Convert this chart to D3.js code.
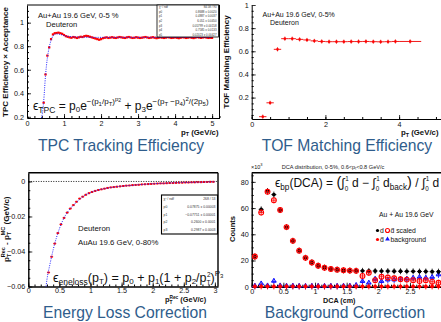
<!DOCTYPE html>
<html><head><meta charset="utf-8">
<script src="https://cdn.jsdelivr.net/npm/d3@7"></script>
<style>body{margin:0;background:#fff}svg{display:block}text{font-family:"Liberation Sans",Arial,sans-serif}</style>
</head><body><script>
// ---------- Panel 1: TPC tracking efficiency ----------
const tpcPt = [
0.45,0.50,0.55,0.60,0.65,0.70,0.75,0.80,0.85,0.90,
0.95,1.00,1.05,1.10,1.15,1.20,1.25,1.30,1.35,1.40,
1.45,1.50,1.55,1.60,1.65,1.70,1.75,1.80,1.85,1.90,
1.95,2.00,2.05,2.10,2.15,2.20,2.25,2.30,2.35,2.40,
2.45,2.50,2.55,2.60,2.65,2.70,2.75,2.80,2.85,2.90,
2.95,3.00,3.05,3.10,3.15,3.20,3.25,3.30,3.35,3.40,
3.45,3.50,3.55,3.60,3.65,3.70,3.75,3.80,3.85,3.90,
3.95,4.00,4.05,4.10,4.15,4.20,4.25,4.30,4.35,4.40,
4.45,4.50,4.55,4.60,4.65,4.70,4.75,4.80,4.85,4.90,
4.95,5.00];
const tpcEff = [
0.32,0.56,0.72,0.79,0.86,0.90,0.91,0.912,0.915,0.91,
0.905,0.895,0.885,0.88,0.875,0.872,0.878,0.875,0.87,0.875,
0.88,0.878,0.885,0.888,0.885,0.88,0.875,0.87,0.865,0.86,
0.855,0.86,0.868,0.872,0.875,0.87,0.873,0.876,0.872,0.87,
0.874,0.878,0.875,0.872,0.87,0.875,0.878,0.874,0.87,0.872,
0.876,0.873,0.87,0.872,0.875,0.878,0.874,0.87,0.873,0.876,
0.872,0.868,0.872,0.875,0.873,0.87,0.873,0.877,0.874,0.87,
0.872,0.875,0.872,0.868,0.872,0.876,0.874,0.87,0.873,0.876,
0.872,0.869,0.873,0.877,0.874,0.871,0.874,0.877,0.873,0.87,
0.872,0.871];
const tpcFitPt  = [0.39,0.42,0.45,0.50,0.55,0.60,0.65,0.70,0.75,0.80,0.90,1.00,1.20,1.50,2.00,3.00,4.00,5.00];
const tpcFitEff = [0.19,0.24,0.33,0.55,0.70,0.79,0.85,0.885,0.90,0.905,0.90,0.89,0.88,0.877,0.875,0.875,0.875,0.875];
const tpcStatNames = ["\u03C7\u00B2 / ndf","p0","p1","p2","p3","p4","p5"];
const tpcStatVals  = ["84.58 / 90","0.8688 \u00B1 0.0020","0.4887 \u00B1 0.0037","6.051 \u00B1 0.0450","0.05799 \u00B1 0.00158","0.7585 \u00B1 0.0133","0.02023 \u00B1 0.00427"];

// ---------- Panel 2: TOF matching efficiency ----------
const tofPt    = [0.3,0.5,0.7,0.9,1.1,1.3,1.5,1.7,1.9,2.1,2.3,2.5,2.7,2.9,3.1,3.3,3.5,3.7,3.9,4.3];
const tofPtErr = [0.1,0.1,0.1,0.1,0.1,0.1,0.1,0.1,0.1,0.1,0.1,0.1,0.1,0.1,0.1,0.1,0.1,0.1,0.1,0.3];
const tofEff   = [0.035,0.155,0.617,0.709,0.709,0.703,0.698,0.690,0.685,0.683,0.683,0.683,0.684,0.684,0.685,0.683,0.682,0.683,0.685,0.685];

// ---------- Panel 3: energy loss correction ----------
const elPt = [
0.325,0.375,0.425,0.475,0.525,0.575,0.625,0.675,0.725,0.775,
0.825,0.875,0.925,0.975,1.025,1.075,1.125,1.175,1.225,1.275,
1.325,1.375,1.425,1.475,1.525,1.575,1.625,1.675,1.725,1.775,
1.825,1.875,1.925,1.975,2.025,2.075,2.125,2.175,2.225,2.275,
2.325,2.375,2.425,2.475,2.525,2.575,2.625,2.675,2.725,2.775,
2.825,2.875,2.925,2.975];
const elDelta = [
-0.052,-0.043,-0.0355,-0.0295,-0.0245,-0.0208,-0.0178,-0.0155,-0.0135,-0.0116,
-0.0098,-0.0087,-0.0076,-0.0067,-0.0060,-0.0054,-0.0049,-0.0045,-0.0041,-0.0037,
-0.0034,-0.0032,-0.0030,-0.0028,-0.0026,-0.0024,-0.0023,-0.0021,-0.0020,-0.0019,
-0.0017,-0.0016,-0.0015,-0.0014,-0.0013,-0.0012,-0.0011,-0.0011,-0.0010,-0.0009,
-0.0009,-0.0008,-0.0007,-0.0007,-0.0006,-0.0006,-0.0005,-0.0005,-0.0004,-0.0004,
-0.0003,-0.0003,-0.0002,-0.0002];
const elFitPt    = [0.285,0.30,0.35,0.40,0.50,0.60,0.70,0.80,0.90,1.00,1.20,1.40,1.60,1.80,2.00,2.25,2.50,2.75,3.00];
const elFitDelta = [-0.060,-0.056,-0.047,-0.039,-0.027,-0.0192,-0.0145,-0.0111,-0.0081,-0.0063,-0.0043,-0.0031,-0.0024,-0.0018,-0.0013,-0.0009,-0.0006,-0.0004,-0.0002];
const elStatNames = ["\u03C7\u00B2 / ndf","p0","p1","p2","p3"];
const elStatVals  = ["268 / 53","0.07875 \u00B1 0.00003","\u22120.07751 \u00B1 0.00001","0.2600 \u00B1 0.0001","0.2987 \u00B1 0.0003"];

// ---------- Panel 4: DCA background correction (counts x10^3) ----------
const dca = [0.05,0.15,0.25,0.35,0.45,0.55,0.65,0.75,0.85,0.95,1.05,1.15,1.25,1.35,1.45,1.55,1.65,1.75,1.85,1.95,2.05,2.15,2.25,2.35,2.45,2.55,2.65,2.75,2.85,2.95];
const countsD       = [23,59,73,70.3,58.5,45.5,35,27.5,22,18.5,16,14.5,13.5,13,12.5,12.3,12.2,12.1,12,12,11.9,11.9,11.8,11.8,11.7,11.7,11.6,11.6,11.5,11.5];
const countsDbarSc  = [23,56.6,72.5,66,58.5,45.5,35,27.5,22,18.5,16,14.5,13.5,13,12.5,12.3,12.1,8.2,10.7,5,7.6,7,6.4,5.7,5.4,5,4.3,5,3.8,3];
const countsDbar    = [0.2,0.2,0.2,0.2,0.2,0.2,0.2,0.2,0.2,0.2,0.2,0.2,0.2,0.2,0.2,0.2,0.2,0.2,0.2,0.2,0.2,0.2,0.2,0.2,0.2,0.2,0.2,0.2,0.2,0.2];
const countsBkg     = [0.3,2,0.5,4,0.5,0.3,0.3,0.2,0.2,0.2,0.2,0.2,0.2,0.2,0.3,0.3,0.8,3.8,2.6,5.6,3.8,5,5,5.7,5.7,6.4,7,6.4,7,8.9];

const captions = ["TPC Tracking Efficiency","TOF Matching Efficiency","Energy Loss Correction","Background Correction"];

// ================= drawing =================
const W = 441, H = 322;
const svg = d3.select("body").append("svg").attr("width", W).attr("height", H);
const SERIF = "'Liberation Serif','DejaVu Serif',serif";
const SANS = "'Liberation Sans',Arial,sans-serif";

function axes(g, x, y, o) {
  const [yb, yt] = y.range(), [xl, xr] = x.range();
  const sw = o.sw || 1;
  g.append("g").attr("transform", `translate(0,${yb})`)
    .call(d3.axisBottom(x).tickValues(o.xMinor).tickSize(-2).tickFormat(""))
    .call(s => s.select(".domain").remove());
  g.append("g").attr("transform", `translate(${xl},0)`)
    .call(d3.axisLeft(y).tickValues(o.yMinor).tickSize(-2).tickFormat(""))
    .call(s => s.select(".domain").remove());
  const ax = g.append("g").attr("transform", `translate(0,${yb})`)
    .call(d3.axisBottom(x).tickValues(o.xMajor).tickSize(-4).tickSizeOuter(0).tickPadding(o.xPad || 4).tickFormat(o.xFmt));
  const ay = g.append("g").attr("transform", `translate(${xl},0)`)
    .call(d3.axisLeft(y).tickValues(o.yMajor).tickSize(-4).tickSizeOuter(0).tickPadding(o.yPad || 3).tickFormat(o.yFmt));
  [ax, ay].forEach(a => {
    a.selectAll("text").attr("font-size", 7.2).attr("fill", "#111").attr("font-family", SANS);
    a.selectAll("line").attr("stroke", "#000").attr("stroke-width", 0.8);
    a.select(".domain").attr("stroke", "#000").attr("stroke-width", sw);
  });
  g.selectAll("line").attr("stroke", "#000");
  if (o.top) g.append("line").attr("x1", xl).attr("x2", xr).attr("y1", yt).attr("y2", yt).attr("stroke", "#000").attr("stroke-width", sw);
  if (o.right) g.append("line").attr("x1", xr).attr("x2", xr).attr("y1", yt).attr("y2", yb).attr("stroke", "#000").attr("stroke-width", sw);
}

function rich(g, x, y, parts, family, weight) {
  const t = g.append("text").attr("x", x).attr("y", y).attr("font-family", family || SERIF).attr("fill", "#111");
  if (weight) t.attr("font-weight", weight);
  let prev = 0;
  parts.forEach(p => {
    const [s, off, size, dx] = p;
    const ts = t.append("tspan").attr("dy", off - prev).attr("font-size", size).text(s);
    if (dx) ts.attr("dx", dx);
    prev = off;
  });
  return t;
}

function statBox(g, x0, y0, w, h, names, vals, fs, sw) {
  g.append("rect").attr("x", x0).attr("y", y0).attr("width", w).attr("height", h)
    .attr("fill", "#fff").attr("stroke", "#000").attr("stroke-width", sw);
  const step = h / names.length;
  names.forEach((n, i) => {
    g.append("text").attr("x", x0 + 2).attr("y", y0 + step * (i + 0.5) + fs * 0.35).attr("font-size", fs).attr("fill", "#333").text(n);
    g.append("text").attr("x", x0 + w - 2).attr("y", y0 + step * (i + 0.5) + fs * 0.35).attr("font-size", fs).attr("fill", "#333").attr("text-anchor", "end").text(vals[i]);
  });
}

// ---------------- Panel 1 ----------------
{
  const g = svg.append("g");
  const x = d3.scaleLinear([0, 5.2], [27, 219.5]);
  const y = d3.scaleLinear([0.19, 1.15], [118, 5]);
  axes(g, x, y, {
    xMajor: [0,1,2,3,4,5], xMinor: d3.range(0, 5.21, 0.2), yMajor: [0.2,0.4,0.6,0.8,1.0], yMinor: d3.range(0.2, 1.15, 0.05),
    xFmt: d3.format("d"), yFmt: d => d === 1 ? "1" : d3.format(".1f")(d), top: true, right: true, xPad: 3, yPad: 3
  });
  g.append("text").attr("transform", "translate(8,62) rotate(-90)").attr("text-anchor", "middle")
    .attr("font-size", 8).attr("font-weight", "bold").attr("fill", "#111").text("TPC Efficiency \u00D7 Acceptance");
  rich(g, 181, 134.5, [["p",0,7.8],["T",1.8,5.3],[" (GeV/c)",0,7.8]], SANS, "bold");
  g.append("text").attr("x", 38).attr("y", 17.5).attr("font-size", 7.6).attr("fill", "#111").text("Au+Au 19.6 GeV, 0-5 %");
  g.append("text").attr("x", 46).attr("y", 27).attr("font-size", 7.6).attr("fill", "#111").text("Deuteron");
  g.append("g").selectAll("line").data(tpcPt).join("line")
    .attr("x1", (d) => x(d - 0.025)).attr("x2", d => x(d + 0.025))
    .attr("y1", (d, i) => y(tpcEff[i])).attr("y2", (d, i) => y(tpcEff[i]))
    .attr("stroke", "#e00").attr("stroke-width", 0.8);
  g.append("g").selectAll("rect").data(tpcPt).join("rect")
    .attr("x", d => x(d) - 1.1).attr("y", (d, i) => y(tpcEff[i]) - 1.1).attr("width", 2.2).attr("height", 2.2).attr("fill", "#f00");
  g.append("path").datum(tpcFitPt).attr("fill", "none").attr("stroke", "#22f").attr("stroke-width", 1)
    .attr("stroke-dasharray", "1,1.3")
    .attr("d", d3.line().x(d => x(d)).y((d, i) => y(tpcFitEff[i])).curve(d3.curveMonotoneX));
  statBox(g, 157, 5, 61.5, 32, tpcStatNames, tpcStatVals, 2.9, 0.8);
  rich(g, 33, 109.5, [
    ["\u03F5",0,12],["TPC",3.2,8.5],[" = p",0,12],["0",2.7,8],["e",0,12],
    ["\u2212(p",-5.5,8],["1",-3.3,6],["/p",-5.5,8],["T",-3.3,6],[")",-5.5,8],["p",-9,6],["2",-8,5],
    [" + p",0,12],["3",2.7,8],["e",0,12],
    ["\u2212(p",-5.5,8],["T",-3.3,6],[" \u2212p",-5.5,8],["4",-3.3,6],[")",-5.5,8],["2",-8.5,6],["/(2p",-5.5,8],["5",-3.3,6],[")",-5.5,8]
  ]);
}

// ---------------- Panel 2 ----------------
{
  const g = svg.append("g");
  const x = d3.scaleLinear([0, 5.3], [251.7, 447]);
  const y = d3.scaleLinear([0.015, 1], [119, 5]);
  axes(g, x, y, {
    xMajor: [0,2,4], xMinor: d3.range(0, 5.3, 0.5), yMajor: [0.2,0.4,0.6,0.8,1.0], yMinor: d3.range(0.05, 1.0, 0.05),
    xFmt: d3.format("d"), yFmt: d => d === 1 ? "1" : d3.format(".1f")(d), xPad: 2.5, yPad: 3
  });
  g.append("text").attr("transform", "translate(228.5,62) rotate(-90)").attr("text-anchor", "middle")
    .attr("font-size", 8).attr("font-weight", "bold").attr("fill", "#111").text("TOF Matching Efficiency");
  rich(g, 401, 135, [["p",0,7.8],["T",1.8,5.3],[" (GeV/c)",0,7.8]], SANS, "bold");
  g.append("text").attr("x", 262.5).attr("y", 16.5).attr("font-size", 7).attr("fill", "#111").text("Au+Au 19.6 GeV, 0-5%");
  g.append("text").attr("x", 270).attr("y", 24.5).attr("font-size", 7).attr("fill", "#111").text("Deuteron");
  g.append("g").selectAll("line").data(tofPt).join("line")
    .attr("x1", (d, i) => x(d - tofPtErr[i])).attr("x2", (d, i) => x(d + tofPtErr[i]))
    .attr("y1", (d, i) => y(tofEff[i])).attr("y2", (d, i) => y(tofEff[i]))
    .attr("stroke", "#e00").attr("stroke-width", 0.9);
  g.append("g").selectAll("line").data(tofPt).join("line")
    .attr("x1", d => x(d)).attr("x2", d => x(d))
    .attr("y1", (d, i) => y(tofEff[i]) - 2).attr("y2", (d, i) => y(tofEff[i]) + 2)
    .attr("stroke", "#e00").attr("stroke-width", 0.9);
  g.append("g").selectAll("rect").data(tofPt).join("rect")
    .attr("x", d => x(d) - 1.1).attr("y", (d, i) => y(tofEff[i]) - 1.1).attr("width", 2.2).attr("height", 2.2).attr("fill", "#f00");
}

// ---------------- Panel 3 ----------------
{
  const g = svg.append("g");
  const x = d3.scaleLinear([0, 3.05], [28.3, 218]);
  const y = d3.scaleLinear([-0.06, 0.005], [286.5, 172.7]);
  axes(g, x, y, {
    xMajor: [0,0.5,1,1.5,2,2.5,3], xMinor: d3.range(0, 3.05, 0.1), yMajor: [-0.06,-0.04,-0.02,0], yMinor: d3.range(-0.06, 0.005, 0.005),
    xFmt: d => d === 0 ? "0" : d3.format("~g")(d), yFmt: d => d === 0 ? "0" : d3.format(".2f")(d).replace("-", "\u2212"), top: true, right: true, sw: 1.4, xPad: 1.8, yPad: 3
  });
  rich(g, 0, 0, [["p",0,8],["T",2.5,5.5],["Rec",-4,5.5,-3.5],[" - p",0,8],["T",2.5,5.5],["MC",-4,5.5,-3.5],[" (GeV/c)",0,8]], SANS, "bold")
    .attr("transform", "translate(8.5,262) rotate(-90)");
  rich(g, 165, 302.3, [["p",0,7.4],["T",1.8,4.8],["Rec",-3,4.8,-3],[" (GeV/c)",0,7.4]], SANS, "bold");
  g.append("line").attr("x1", x(0)).attr("x2", x(3.05)).attr("y1", y(0)).attr("y2", y(0))
    .attr("stroke", "#000").attr("stroke-width", 0.9).attr("stroke-dasharray", "1,1.5");
  g.append("text").attr("x", 78).attr("y", 231).attr("font-size", 7.8).attr("fill", "#111").text("Deuteron");
  g.append("text").attr("x", 78).attr("y", 244.5).attr("font-size", 7.8).attr("fill", "#111").text("AuAu 19.6 GeV, 0-80%");
  g.append("g").selectAll("line").data(elPt).join("line")
    .attr("x1", d => x(d - 0.025)).attr("x2", d => x(d + 0.025))
    .attr("y1", (d, i) => y(elDelta[i])).attr("y2", (d, i) => y(elDelta[i]))
    .attr("stroke", "#e00").attr("stroke-width", 0.8);
  g.append("g").selectAll("rect").data(elPt).join("rect")
    .attr("x", d => x(d) - 1).attr("y", (d, i) => y(elDelta[i]) - 1).attr("width", 2).attr("height", 2).attr("fill", "#f00");
  g.append("path").datum(elFitPt).attr("fill", "none").attr("stroke", "#22f").attr("stroke-width", 1)
    .attr("stroke-dasharray", "1,1.3")
    .attr("d", d3.line().x(d => x(d)).y((d, i) => y(elFitDelta[i])).curve(d3.curveMonotoneX));
  statBox(g, 161.5, 195, 56, 39, elStatNames, elStatVals, 3.4, 1.1);
  rich(g, 53, 281.5, [
    ["\u03F5",0,12.5],["eneloss",3,8.5],["(p",0,12.5],["T",2.5,8],[") = p",0,12.5],["0",2.5,8],[" + p",0,12.5],["1",2.5,8],
    ["(1 + p",0,12.5],["2",2.5,8],["/p",0,12.5],["T",3,6.5],["2",-4.5,6.5,-3.6],[")",0,12.5],["P",-5.5,8],["3",-3.5,6]
  ]);
}

// ---------------- Panel 4 ----------------
{
  const g = svg.append("g");
  const x = d3.scaleLinear([0, 3.05], [251.7, 444.8]);
  const y = d3.scaleLinear([0, 87], [286.7, 172.7]);
  axes(g, x, y, {
    xMajor: [0,0.5,1,1.5,2,2.5], xMinor: d3.range(0, 3.05, 0.1), yMajor: [0,20,40,60,80], yMinor: d3.range(0, 87, 5),
    xFmt: d => d === 0 ? "0" : d3.format("~g")(d), yFmt: d3.format("d"), top: true, sw: 1.4, xPad: 1.8, yPad: 3
  });
  rich(g, 251, 168.5, [["\u00D710",0,5.5],["3",-2.5,4]]);
  g.append("text").attr("x", 333).attr("y", 168.5).attr("text-anchor", "middle").attr("font-size", 5.6).attr("fill", "#222")
    .text("DCA distribution, 0-5%, 0.6<p\u209C<0.8 GeV/c");
  g.append("text").attr("transform", "translate(235,229) rotate(-90)").attr("text-anchor", "middle")
    .attr("font-size", 7.6).attr("font-weight", "bold").attr("fill", "#111").text("Counts");
  g.append("text").attr("x", 323).attr("y", 303).attr("font-size", 7.2).attr("font-weight", "bold").attr("fill", "#111").text("DCA (cm)");
  const tri = d3.symbol().type(d3.symbolTriangle).size(9);
  const series = (vals, color) => {
    g.append("g").selectAll("line").data(dca).join("line")
      .attr("x1", d => x(d - 0.04)).attr("x2", d => x(d + 0.04))
      .attr("y1", (d, i) => y(vals[i])).attr("y2", (d, i) => y(vals[i]))
      .attr("stroke", color).attr("stroke-width", 0.8);
    g.append("g").selectAll("line").data(dca).join("line")
      .attr("x1", d => x(d)).attr("x2", d => x(d))
      .attr("y1", (d, i) => y(vals[i]) - 3).attr("y2", (d, i) => y(vals[i]) + 3)
      .attr("stroke", color).attr("stroke-width", 0.8);
  };
  series(countsBkg, "#11f");
  g.append("g").selectAll("path").data(dca).join("path")
    .attr("transform", (d, i) => `translate(${x(d)},${y(countsBkg[i]) - 0.5})`).attr("d", tri)
    .attr("fill", "none").attr("stroke", "#11f").attr("stroke-width", 1);
  series(countsDbar, "#f00");
  g.append("g").selectAll("circle").data(dca).join("circle")
    .attr("cx", d => x(d)).attr("cy", (d, i) => y(countsDbar[i])).attr("r", 1.9).attr("fill", "#f00");
  series(countsD, "#000");
  g.append("g").selectAll("circle").data(dca).join("circle")
    .attr("cx", d => x(d)).attr("cy", (d, i) => y(countsD[i])).attr("r", 1.9).attr("fill", "#000");
  series(countsDbarSc, "#f00");
  g.append("g").selectAll("circle").data(dca).join("circle")
    .attr("cx", d => x(d)).attr("cy", (d, i) => y(countsDbarSc[i])).attr("r", 2.4).attr("fill", "none").attr("stroke", "#f00").attr("stroke-width", 1.1);
  g.append("text").attr("x", 379).attr("y", 217).attr("font-family", SERIF).attr("font-size", 6.8).attr("fill", "#111").text("Au + Au 19.6 GeV");
  g.append("circle").attr("cx", 377.5).attr("cy", 230.5).attr("r", 1.6).attr("fill", "#000");
  g.append("text").attr("x", 380).attr("y", 233).attr("font-family", SERIF).attr("font-size", 6.8).attr("fill", "#111").text("d");
  g.append("circle").attr("cx", 387.5).attr("cy", 230.5).attr("r", 2).attr("fill", "none").attr("stroke", "#f00").attr("stroke-width", 1.1);
  g.append("text").attr("x", 390.5).attr("y", 233).attr("font-family", SERIF).attr("font-size", 6.8).attr("fill", "#111").text("d\u0304 scaled");
  g.append("circle").attr("cx", 377.5).attr("cy", 239.5).attr("r", 1.6).attr("fill", "#f00");
  g.append("text").attr("x", 380).attr("y", 242).attr("font-family", SERIF).attr("font-size", 6.8).attr("fill", "#111").text("d\u0304");
  g.append("path").attr("transform", "translate(387.5,239.2)").attr("d", d3.symbol().type(d3.symbolTriangle).size(10)).attr("fill", "#11f");
  g.append("text").attr("x", 390.5).attr("y", 242).attr("font-family", SERIF).attr("font-size", 6.8).attr("fill", "#111").text("background");
  rich(g, 275, 187, [
    ["\u03F5",0,12],["bp",3,8.2],["(DCA) = ",0,12],["(",0,14.5],["\u222B",0,12.5],["0",3.5,6.3],["1",-6.5,6.3,-3.1],[" d \u2212 ",0,12],
    ["\u222B",0,12.5],["0",3.5,6.3],["1",-6.5,6.3,-3.1],[" d",0,12],["back",3,8.2],[")",0,14.5],[" / ",0,12],["\u222B",0,12.5],["0",3.5,6.3],["1",-6.5,6.3,-3.1],[" d",0,12]
  ]);
}

// ---------------- captions ----------------
const capPos = [[121,151.3],[347,151.3],[125,317.8],[345,317.8]];
captions.forEach((c, i) => {
  svg.append("text").attr("x", capPos[i][0]).attr("y", capPos[i][1]).attr("text-anchor", "middle")
    .attr("font-size", 15.7).attr("fill", "#2f5d8c").text(c);
});
</script></body></html>
